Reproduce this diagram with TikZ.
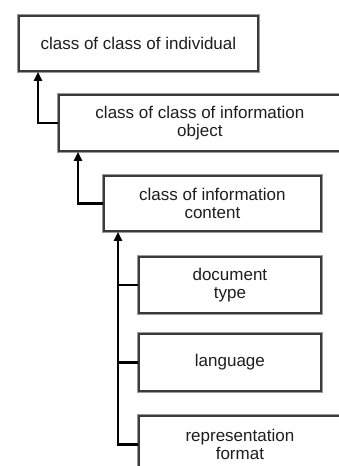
\documentclass[tikz,border=0pt]{standalone}
\usepackage{fontspec}
\setmainfont{Liberation Sans}
\usepackage{tikz}
\usetikzlibrary{positioning,arrows.meta,calc}
\usepackage{xcolor}
\definecolor{clsInk}{HTML}{1E1E1E}
\definecolor{clsEdge}{HTML}{3A3A3A}
\definecolor{clsHalo}{HTML}{9A9A9A}
\tikzset{
  clsbox/.style  = {draw=clsEdge, line width=1.8pt, fill=white, align=center,
                    anchor=north west, inner sep=4pt, text=clsInk,
                    font=\fontsize{17}{18.5}\selectfont,
                    preaction={draw=clsHalo, line width=4.5pt}},
  uplink/.style  = {-{Triangle[length=9pt, width=8pt]}, line width=2.4pt,
                    draw=black},
  branch/.style  = {line width=2.4pt, draw=black},
}

\begin{document}
\begin{tikzpicture}[x=1pt, y=-1pt]
  \useasboundingbox (0,0) rectangle (338,466);

  \node[clsbox, minimum width=239pt, minimum height=55pt] (indiv) at (18,15)
    {class of class of individual};
  \node[clsbox, minimum width=282pt, minimum height=56pt] (infobj) at (58,94)
    {class of class of information\\object};
  \node[clsbox, minimum width=217pt, minimum height=55pt] (infcont) at (103,175)
    {class of information\\content};

  \node[clsbox, minimum width=182pt, minimum height=56pt] (doctype) at (138,256)
    {document\\type};
  \node[clsbox, minimum width=182pt, minimum height=57pt] (lang) at (138,333)
    {language};
  \node[clsbox, minimum width=202pt, minimum height=57pt] (repfmt) at (138,415)
    {representation\\format};

  % specialisation links
  \draw[uplink] (infobj.west) -| ([xshift=20pt]indiv.south west);
  \draw[uplink] (infcont.west) -| ([xshift=20pt]infobj.south west);

  \coordinate (spine) at ([xshift=15pt]infcont.south west);
  \draw[uplink] (repfmt.west) -| (spine);
  \draw[branch] (doctype.west) -- (doctype.west -| spine);
  \draw[branch] (lang.west) -- (lang.west -| spine);
\end{tikzpicture}
\end{document}
